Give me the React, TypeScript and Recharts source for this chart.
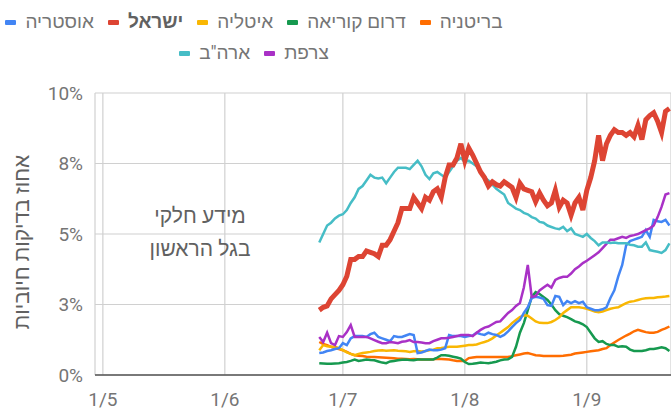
import React from "react";
import { LineChart, Line, XAxis, YAxis, CartesianGrid } from "recharts";

// Day index: days relative to 1 July (0 = 1/7). Series begin on 25/6 (day -6).
const firstDay = -6;

const austria = [
  0.78, 0.8, 0.85, 0.88, 0.92, 0.95, 1.13, 1.06, 1.3, 1.38, 1.38, 1.38, 1.35, 1.45, 1.5, 1.35,
  1.3, 1.25, 1.2, 1.38, 1.35, 1.35, 1.4, 1.45, 1.42, 0.78, 0.8, 0.85, 0.9, 0.88, 0.88, 0.9,
  0.95, 1.42, 1.38, 1.38, 1.38, 1.35, 1.38, 1.4, 1.5, 1.45, 1.42, 1.5, 1.45, 1.42, 1.35, 1.42,
  1.55, 1.7, 1.84, 1.95, 2.2, 2.4, 2.73, 2.77, 2.75, 2.7, 2.48, 2.45, 2.8, 2.77, 2.48, 2.62,
  2.55, 2.62, 2.55, 2.6, 2.4, 2.35, 2.3, 2.3, 2.33, 2.4, 2.73, 3.0, 3.5, 3.9, 4.6, 4.75, 4.8,
  4.85, 4.9, 5.14, 4.9, 5.5, 5.45, 5.43, 5.5, 5.3,
];

const israel = [
  2.3, 2.4, 2.45, 2.7, 2.85, 3.0, 3.2, 3.5, 4.1, 4.1, 4.2, 4.2, 4.4, 4.35, 4.3, 4.2, 4.6, 4.6,
  4.8, 5.1, 5.4, 5.9, 5.9, 5.9, 6.3, 6.1, 5.9, 6.3, 6.2, 6.5, 6.6, 6.3, 7.0, 7.45, 7.45, 7.7,
  8.2, 7.6, 8.05, 7.8, 7.5, 7.2, 7.0, 6.7, 6.85, 6.75, 6.7, 6.85, 6.75, 6.65, 6.3, 6.8, 6.6,
  6.55, 6.5, 6.15, 6.45, 6.2, 6.0, 6.1, 6.55, 5.95, 6.2, 6.1, 5.67, 6.1, 6.3, 5.85, 6.55, 7.0,
  7.6, 8.5, 7.6, 8.2, 8.5, 8.7, 8.6, 8.6, 8.5, 8.6, 8.45, 8.85, 8.35, 9.05, 9.2, 9.3, 9.0, 8.6,
  9.35, 9.45,
];

const italy = [
  0.88, 1.06, 1.02, 1.0, 1.0, 0.95, 0.88, 0.8, 0.75, 0.7, 0.75, 0.78, 0.8, 0.82, 0.85, 0.87,
  0.88, 0.86, 0.87, 0.88, 0.86, 0.85, 0.84, 0.82, 0.84, 0.85, 0.83, 0.85, 0.88, 0.9, 0.95,
  0.96, 0.98, 1.0, 1.0, 1.0, 1.02, 1.04, 1.06, 1.06, 1.08, 1.13, 1.17, 1.22, 1.3, 1.4, 1.5,
  1.6, 1.7, 1.84, 1.95, 2.05, 2.12, 2.1, 2.0, 1.9, 1.85, 1.84, 1.84, 1.88, 1.95, 2.05, 2.2,
  2.3, 2.4, 2.4, 2.4, 2.38, 2.35, 2.3, 2.25, 2.23, 2.25, 2.3, 2.35, 2.38, 2.4, 2.48, 2.55,
  2.6, 2.62, 2.66, 2.7, 2.72, 2.73, 2.73, 2.76, 2.77, 2.78, 2.8,
];

const korea = [
  0.42, 0.41, 0.4, 0.4, 0.41, 0.42, 0.44, 0.46, 0.5, 0.55, 0.5, 0.52, 0.55, 0.53, 0.52, 0.48,
  0.44, 0.42, 0.48, 0.5, 0.52, 0.54, 0.55, 0.53, 0.52, 0.55, 0.55, 0.55, 0.55, 0.55, 0.62,
  0.7, 0.7, 0.68, 0.65, 0.62, 0.58, 0.46, 0.39, 0.4, 0.42, 0.44, 0.43, 0.42, 0.44, 0.47, 0.52,
  0.55, 0.56, 0.64, 1.0, 1.5, 1.84, 2.3, 2.77, 2.94, 2.87, 2.77, 2.66, 2.5, 2.3, 2.16, 2.1,
  2.05, 1.98, 1.9, 1.86, 1.8, 1.7, 1.5, 1.3, 1.17, 1.2, 1.1, 1.06, 1.06, 1.0, 1.02, 1.0, 0.9,
  0.85, 0.85, 0.85, 0.88, 0.92, 0.92, 0.95, 0.98, 0.95, 0.85,
];

const britain = [
  1.17, 1.1, 1.06, 1.0, 0.95, 0.92, 0.88, 0.82, 0.75, 0.7, 0.68, 0.67, 0.65, 0.64, 0.64, 0.63,
  0.62, 0.61, 0.6, 0.59, 0.58, 0.58, 0.57, 0.56, 0.57, 0.56, 0.55, 0.55, 0.55, 0.56, 0.58,
  0.57, 0.56, 0.55, 0.52, 0.5, 0.5, 0.5, 0.6, 0.62, 0.64, 0.64, 0.64, 0.64, 0.64, 0.64, 0.64,
  0.64, 0.64, 0.67, 0.7, 0.73, 0.76, 0.78, 0.74, 0.7, 0.69, 0.67, 0.67, 0.67, 0.67, 0.67,
  0.68, 0.7, 0.72, 0.76, 0.78, 0.8, 0.82, 0.84, 0.86, 0.88, 0.92, 0.95, 1.06, 1.15, 1.24,
  1.32, 1.4, 1.47, 1.55, 1.6, 1.56, 1.52, 1.5, 1.5, 1.53, 1.6, 1.65, 1.72,
];

const usa = [
  4.7, 5.0, 5.3, 5.4, 5.55, 5.65, 5.7, 5.85, 6.1, 6.3, 6.6, 6.7, 6.9, 7.1, 7.0, 6.97, 7.0, 6.8,
  7.0, 7.2, 7.35, 7.35, 7.35, 7.3, 7.45, 7.6, 7.4, 7.1, 6.95, 7.15, 7.2, 7.1, 7.0, 7.2, 7.4,
  7.6, 7.7, 7.55, 7.6, 7.5, 7.4, 7.2, 7.0, 6.9, 6.75, 6.6, 6.5, 6.4, 6.1, 6.0, 5.9, 5.85, 5.75,
  5.7, 5.6, 5.55, 5.43, 5.4, 5.3, 5.25, 5.2, 5.17, 5.25, 5.1, 5.2, 5.0, 4.95, 4.9, 5.0, 4.86,
  4.75, 4.6, 4.7, 4.7, 4.68, 4.7, 4.67, 4.67, 4.67, 4.62, 4.6, 4.55, 4.55, 4.7, 4.43, 4.4,
  4.37, 4.33, 4.43, 4.67,
];

const france = [
  1.35, 1.17, 1.5, 1.13, 1.06, 1.38, 1.35, 1.52, 1.77, 1.35, 1.35, 1.35, 1.35, 1.3, 1.24, 1.18,
  1.13, 1.13, 1.17, 1.15, 1.13, 1.18, 1.2, 1.24, 1.17, 1.17, 1.15, 1.13, 1.13, 1.2, 1.25, 1.3,
  1.3, 1.32, 1.35, 1.38, 1.42, 1.42, 1.42, 1.38, 1.5, 1.6, 1.68, 1.72, 1.8, 1.88, 1.9, 2.05,
  2.2, 2.3, 2.45, 2.55, 3.1, 3.9, 2.77, 2.8, 3.0, 3.1, 3.2, 3.1, 3.37, 3.44, 3.48, 3.48, 3.6,
  3.75, 3.85, 3.97, 4.05, 4.15, 4.25, 4.35, 4.5, 4.65, 4.8, 4.8, 4.85, 4.9, 4.86, 4.93, 4.96,
  5.0, 5.07, 5.14, 5.2, 5.3, 5.6, 5.96, 6.4, 6.45,
];

const xTickDays = [-61, -30, 0, 31, 62];
const xTickLabels = ["1/5", "1/6", "1/7", "1/8", "1/9"];
const yTicks = [0, 2.5, 5, 7.5, 10];
const yTickLabels = ["0%", "3%", "5%", "8%", "10%"];

const seriesDefs = [
  { key: "britain", name: "בריטניה", color: "#FF6D01", values: britain, width: 2.5, bold: false },
  { key: "korea", name: "דרום קוריאה", color: "#16994F", values: korea, width: 2.5, bold: false },
  { key: "italy", name: "איטליה", color: "#F9B703", values: italy, width: 2.5, bold: false },
  { key: "israel", name: "ישראל", color: "#DD4433", values: israel, width: 5, bold: true },
  { key: "austria", name: "אוסטריה", color: "#4285F4", values: austria, width: 2.5, bold: false },
  { key: "france", name: "צרפת", color: "#A931C6", values: france, width: 2.5, bold: false },
  { key: "usa", name: 'ארה"ב', color: "#46BDC6", values: usa, width: 2.5, bold: false },
];

const drawOrder = ["britain", "korea", "italy", "austria", "france", "usa", "israel"];

const data = israel.map((_, i) => {
  const row: Record<string, number> = { day: firstDay + i };
  seriesDefs.forEach((s) => {
    row[s.key] = s.values[i];
  });
  return row;
});

const FONT = "Roboto, 'Liberation Sans', Arial, sans-serif";
const GREY = "#757575";

function LegendItem({ name, color, bold }: { name: string; color: string; bold: boolean }) {
  return (
    <div style={{ display: "flex", alignItems: "center", direction: "rtl", gap: 9, whiteSpace: "nowrap" }}>
      <span style={{ fontWeight: bold ? 700 : 400, color: bold ? "#616161" : GREY }}>{name}</span>
      <span style={{ display: "inline-block", width: 11, height: 5, background: color, borderRadius: 1 }} />
    </div>
  );
}

export default function App() {
  const row1 = seriesDefs.slice(0, 5);
  const row2 = seriesDefs.slice(5);
  const rowStyle: React.CSSProperties = {
    position: "absolute",
    left: -146,
    width: 800,
    display: "flex",
    flexDirection: "row",
    direction: "rtl",
    justifyContent: "center",
    gap: 14,
    fontSize: 19,
    lineHeight: "24px",
    whiteSpace: "nowrap",
  };
  return (
    <div
      style={{
        position: "absolute",
        left: 0,
        top: 0,
        width: 671,
        height: 411,
        overflow: "hidden",
        fontFamily: FONT,
        background: "#fff",
      }}
    >
      <div style={{ ...rowStyle, top: 10 }}>
        {row1.map((s) => (
          <LegendItem key={s.key} name={s.name} color={s.color} bold={s.bold} />
        ))}
      </div>
      <div style={{ ...rowStyle, top: 41 }}>
        {row2.map((s) => (
          <LegendItem key={s.key} name={s.name} color={s.color} bold={s.bold} />
        ))}
      </div>
      <LineChart
        width={671}
        height={411}
        data={data}
        margin={{ top: 93, right: 0, bottom: 0, left: 0 }}
      >
        <CartesianGrid stroke="#d0d0d0" strokeWidth={1.2} />
        <XAxis
          dataKey="day"
          type="number"
          domain={[-63, 83.4]}
          ticks={xTickDays}
          tickFormatter={(v: number) => xTickLabels[xTickDays.indexOf(v)]}
          height={36}
          tickLine={false}
          tickMargin={12}
          axisLine={{ stroke: "#555", strokeWidth: 1.5 }}
          tick={{ fill: GREY, fontSize: 19, fontFamily: FONT }}
          allowDataOverflow
        />
        <YAxis
          type="number"
          domain={[0, 10]}
          ticks={yTicks}
          tickFormatter={(v: number) => yTickLabels[yTicks.indexOf(v)]}
          width={95}
          tickLine={false}
          axisLine={false}
          tickMargin={6}
          tick={{ fill: GREY, fontSize: 19, fontFamily: FONT }}
        />
        {drawOrder.map((k) => {
          const s = seriesDefs.find((d) => d.key === k)!;
          return (
            <Line
              key={s.key}
              dataKey={s.key}
              name={s.name}
              stroke={s.color}
              strokeWidth={s.width}
              dot={false}
              isAnimationActive={false}
              strokeLinejoin="miter"
            />
          );
        })}
      </LineChart>
      <div
        style={{
          position: "absolute",
          left: 22,
          top: 242,
          transform: "translate(-50%, -50%) rotate(-90deg)",
          whiteSpace: "nowrap",
          fontSize: 21,
          color: "#616161",
          direction: "rtl",
        }}
      >
        אחוז בדיקות חיוביות
      </div>
      <div
        style={{
          position: "absolute",
          left: 200,
          top: 233,
          transform: "translate(-50%, -50%)",
          whiteSpace: "nowrap",
          fontSize: 21,
          lineHeight: "33px",
          color: "#616161",
          direction: "rtl",
          textAlign: "center",
        }}
      >
        <div>מידע חלקי</div>
        <div>בגל הראשון</div>
      </div>
    </div>
  );
}
